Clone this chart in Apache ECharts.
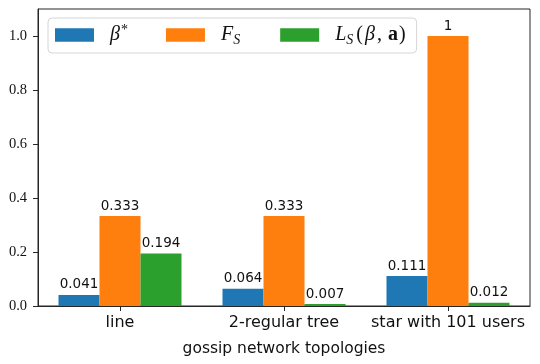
<!DOCTYPE html>
<html>
<head>
<meta charset="utf-8">
<script src="https://cdn.jsdelivr.net/npm/echarts@6/dist/echarts.min.js"></script>
<style>
  html, body { margin: 0; padding: 0; background: #fff; }
  #chart { width: 540px; height: 364px; }
</style>
</head>
<body>
<div id="chart"></div>
<script>
const categories = ['line', '2-regular tree', 'star with 101 users'];
const betaStar = [0.041, 0.064, 0.111];
const fS = [0.333, 0.333, 1];
const lS = [0.194, 0.007, 0.012];
const yTicks = [0, 0.2, 0.4, 0.6, 0.8, 1.0];

const colors = ['#1f77b4', '#ff7f0e', '#2ca02c'];
const axisColor = '#262626';

// matplotlib-ish number labels above the bars
const fmtVal = (v) => (v === 1 ? '1' : v.toFixed(3));

const mathRich = {
  it: { fontFamily: 'Liberation Serif', fontStyle: 'italic', fontSize: 20, lineHeight: 24, color: '#111', padding: [0, 1, 0, 1] },
  first: { fontFamily: 'Liberation Serif', fontStyle: 'italic', fontSize: 20, lineHeight: 24, color: '#111', padding: [0, 0, 0, 11] },
  rm: { fontFamily: 'Liberation Serif', fontSize: 20, lineHeight: 24, color: '#111', padding: [0, 1, 0, 1] },
  bf: { fontFamily: 'Liberation Serif', fontWeight: 'bold', fontSize: 20, lineHeight: 24, color: '#111' },
  sup: { fontFamily: 'Liberation Serif', fontSize: 14, lineHeight: 16, verticalAlign: 'top', color: '#111', padding: [0, 0, 0, 1] },
  sub: { fontFamily: 'Liberation Serif', fontStyle: 'italic', fontSize: 14, lineHeight: 12, verticalAlign: 'bottom', color: '#111', padding: [0, 2, 0, 0] }
};

const legendText = {
  'beta': '{first|β}{sup|*}',
  'F': '{first|F}{sub|S}',
  'L': '{first|L}{sub|S}{rm|(}{it|β}{rm|, }{bf|a}{rm|)}'
};

const makeSeries = (name, data, color) => ({
  name: name,
  type: 'bar',
  data: data,
  barWidth: '25%',
  barGap: '0%',
  itemStyle: { color: color },
  label: {
    show: true,
    position: 'top',
    distance: 3,
    fontFamily: 'DejaVu Sans',
    fontSize: 13.5,
    color: '#111',
    formatter: (p) => fmtVal(p.value)
  }
});

const chart = echarts.init(document.getElementById('chart'), null, { renderer: 'canvas' });
chart.setOption({
  animation: false,
  backgroundColor: '#fff',
  grid: {
    left: 38, right: 10, top: 9, bottom: 58,
    show: true, borderColor: axisColor, borderWidth: 1, backgroundColor: 'transparent'
  },
  legend: {
    left: 48, top: 18,
    orient: 'horizontal',
    selectedMode: false,
    icon: 'rect',
    itemWidth: 39,
    itemHeight: 13.5,
    itemGap: 38,
    padding: [5, 10, 6, 7],
    backgroundColor: 'rgba(255,255,255,0.8)',
    borderColor: '#d6d6d6',
    borderWidth: 1,
    borderRadius: 4,
    data: ['beta', 'F', 'L'],
    formatter: (name) => legendText[name],
    textStyle: { rich: mathRich }
  },
  xAxis: {
    type: 'category',
    data: categories,
    boundaryGap: true,
    name: 'gossip network topologies',
    nameLocation: 'middle',
    nameGap: 35,
    nameTextStyle: { fontFamily: 'DejaVu Sans', fontSize: 15.5, color: '#111' },
    axisLine: { lineStyle: { color: axisColor, width: 1 } },
    axisTick: { show: true, alignWithLabel: true, length: 5, lineStyle: { color: axisColor } },
    axisLabel: { interval: 0, hideOverlap: false, fontFamily: 'DejaVu Sans', fontSize: 16, color: '#111', margin: 9 },
    splitLine: { show: false }
  },
  yAxis: {
    type: 'value',
    min: 0,
    max: 1.1,
    axisLine: { show: true, lineStyle: { color: axisColor, width: 1 } },
    axisTick: { show: true, length: 5, customValues: yTicks, lineStyle: { color: axisColor } },
    axisLabel: {
      customValues: yTicks,
      fontFamily: 'Liberation Serif',
      fontSize: 14.5,
      color: '#111',
      margin: 11,
      formatter: (v) => v.toFixed(1)
    },
    splitLine: { show: false }
  },
  series: [
    makeSeries('beta', betaStar, colors[0]),
    makeSeries('F', fS, colors[1]),
    makeSeries('L', lS, colors[2])
  ]
});
</script>
</body>
</html>
